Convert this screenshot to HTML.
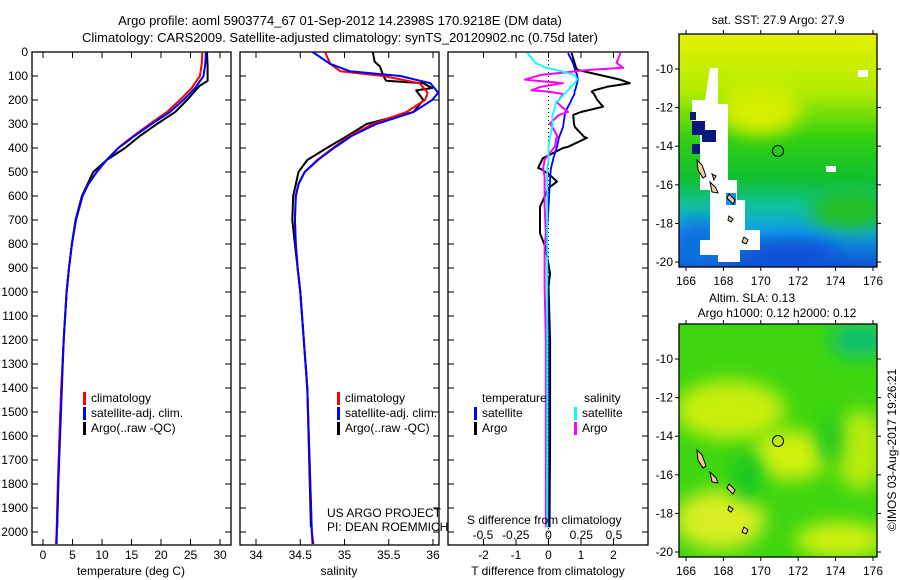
<!DOCTYPE html>
<html><head><meta charset="utf-8"><style>
html,body{margin:0;padding:0;background:#fff;}
svg{display:block;font-family:"Liberation Sans",sans-serif;}
</style></head><body>
<svg id="chart" width="900" height="580" viewBox="0 0 900 580" xmlns="http://www.w3.org/2000/svg">
<defs>
<linearGradient id="sstg" x1="0" y1="0" x2="0" y2="1">
<stop offset="0" stop-color="#e4f000"/><stop offset="0.25" stop-color="#b0ec00"/><stop offset="0.45" stop-color="#30d010"/><stop offset="0.62" stop-color="#10c030"/><stop offset="0.74" stop-color="#10c0a0"/><stop offset="0.85" stop-color="#10a0e8"/><stop offset="1" stop-color="#1050d0"/>
</linearGradient>
<filter id="blur" x="-100%" y="-100%" width="300%" height="300%"><feGaussianBlur stdDeviation="9"/></filter>
<clipPath id="m1"><rect x="679" y="34" width="198" height="233"/></clipPath>
<clipPath id="m2"><rect x="679" y="324" width="198" height="233"/></clipPath>
</defs>
<g font-size="13" fill="#000">
<text x="340" y="25" text-anchor="middle">Argo profile: aoml 5903774_67 01-Sep-2012 14.2398S 170.9218E (DM data)</text>
<text x="340" y="42" text-anchor="middle">Climatology: CARS2009. Satellite-adjusted climatology: synTS_20120902.nc (0.75d later)</text>
</g>
<g id="plots"></g>
<!-- SST map -->
<g clip-path="url(#m1)">
<rect x="679" y="34" width="198" height="233" fill="url(#sstg)"/>
<ellipse cx="760" cy="110" rx="40" ry="25" fill="#d8ee00" filter="url(#blur)"/>
<ellipse cx="850" cy="210" rx="40" ry="20" fill="#20c020" filter="url(#blur)"/>
<ellipse cx="790" cy="255" rx="50" ry="15" fill="#0850d8" filter="url(#blur)"/>
<ellipse cx="700" cy="245" rx="30" ry="25" fill="#1070e0" filter="url(#blur)"/>
<polygon points="710,68 718,68 718,104 728,104 728,180 737,180 737,200 745,200 745,230 760,230 760,250 740,250 740,262 718,262 718,255 700,255 700,240 710,240 710,190 700,190 700,155 700,130 692,130 692,100 705,100" fill="#fff"/>
<rect x="692" y="121" width="13" height="14" fill="#081880"/><rect x="702" y="130" width="14" height="12" fill="#081880"/>
<rect x="690" y="112" width="6" height="8" fill="#081880"/><rect x="692" y="144" width="8" height="10" fill="#081880"/>
<rect x="726" y="193" width="10" height="12" fill="#1090f0"/>
<rect x="826" y="166" width="10" height="6" fill="#fff"/><rect x="858" y="70" width="10" height="7" fill="#fff"/>
<g fill="#f8c8a0" stroke="#000" stroke-width="1">
<polygon points="697,160 702,165 706,176 703,178 698,170"/><polygon points="710,182 716,188 718,193 712,192"/>
<polygon points="729,194 735,200 733,204 727,198"/><polygon points="729,216 733,219 731,222 728,220"/>
<polygon points="744,237 748,240 746,244 742,242"/><polygon points="712,174 716,176 714,180"/>
</g>
<circle cx="778" cy="151" r="5.5" fill="none" stroke="#000"/>
</g>
<!-- SLA map -->
<g clip-path="url(#m2)">
<rect x="679" y="324" width="198" height="233" fill="#3ed610"/>
<ellipse cx="730" cy="410" rx="55" ry="30" fill="#c8ee10" filter="url(#blur)"/>
<ellipse cx="790" cy="455" rx="40" ry="25" fill="#d0f010" filter="url(#blur)"/>
<ellipse cx="720" cy="520" rx="45" ry="30" fill="#d8ee20" filter="url(#blur)"/>
<ellipse cx="840" cy="540" rx="45" ry="18" fill="#d0f010" filter="url(#blur)"/>
<ellipse cx="860" cy="450" rx="25" ry="40" fill="#b8ec10" filter="url(#blur)"/>
<ellipse cx="860" cy="340" rx="30" ry="18" fill="#10c070" filter="url(#blur)"/>
<ellipse cx="748" cy="475" rx="15" ry="25" fill="#18c820" filter="url(#blur)"/>
<ellipse cx="830" cy="440" rx="12" ry="25" fill="#20c820" filter="url(#blur)"/>
<g fill="#f8c8a0" stroke="#000" stroke-width="1">
<polygon points="697,450 702,455 706,466 703,468 698,460"/><polygon points="710,472 716,478 718,483 712,482"/>
<polygon points="729,484 735,490 733,494 727,488"/><polygon points="729,506 733,509 731,512 728,510"/>
<polygon points="744,527 748,530 746,534 742,532"/>
</g>
<circle cx="778" cy="441" r="5.5" fill="none" stroke="#000"/>
</g>
<g id="maps"></g>
<g font-size="12" fill="#000">
<text x="778" y="24" text-anchor="middle">sat. SST: 27.9 Argo: 27.9</text>
<text x="752" y="302" text-anchor="middle">Altim. SLA: 0.13</text>
<text x="777" y="317" text-anchor="middle">Argo h1000: 0.12 h2000: 0.12</text>
<text transform="translate(896,450) rotate(-90)" text-anchor="middle">©IMOS 03-Aug-2017 19:26:21</text>
<text x="327" y="517">US ARGO PROJECT</text>
<text x="327" y="531">PI: DEAN ROEMMICH</text>
<text x="467" y="524">S difference from climatology</text>
</g>
</svg>
<script>
// ---- data ----
const tDepth = [0,50,100,150,200,250,300,350,400,450,500,550,600,700,800,900,1000,1200,1400,1600,1800,2000,2050];
const tClim  = [27.0,26.9,26.6,25.2,23.2,21.0,18.1,15.3,12.7,10.8,9.1,7.7,6.7,5.6,4.9,4.4,4.0,3.5,3.1,2.8,2.5,2.3,2.2];
const tSat   = [27.6,27.5,27.2,25.8,23.8,21.5,18.4,15.5,12.8,10.8,9.1,7.7,6.7,5.6,4.9,4.4,4.0,3.5,3.2,2.9,2.6,2.35,2.3];
const tArgoDepth = [0,60,120,140,200,250,300,350,400,450,500,600,700,800,900,1000,1200,1400,1600,1800,1980];
const tArgo  = [27.8,27.9,27.9,26.6,24.4,22.4,19.3,16.4,13.9,10.8,8.5,6.6,5.5,4.9,4.4,4.0,3.5,3.1,2.8,2.6,2.4];
const sDepth = [0,50,80,100,130,170,200,250,300,350,400,450,500,550,600,700,800,900,1000,1400,2000,2050];
const sClim  = [34.78,34.84,34.95,35.44,35.85,35.94,35.91,35.70,35.32,35.06,34.87,34.69,34.55,34.48,34.45,34.44,34.45,34.47,34.50,34.58,34.63,34.65];
const sSat   = [34.64,34.84,35.06,35.63,35.97,36.06,35.99,35.78,35.36,35.08,34.88,34.70,34.55,34.48,34.45,34.44,34.45,34.47,34.50,34.58,34.63,34.64];
const sArgoDepth = [0,40,60,100,120,130,150,160,200,250,300,350,400,450,480,500,600,700,800,900,1000,1400,1980];
const sArgo  = [35.32,35.34,35.40,35.44,35.47,35.89,35.99,35.81,35.89,35.78,35.25,35.03,34.80,34.58,34.52,34.48,34.42,34.41,34.44,34.47,34.50,34.58,34.62];
const dDepth = [4,45,66,75,96,115,130,145,160,165,175,200,208,228,250,262,298,312,354,358,395,400,442,450,483,490,520,540,567,645,755,812,922,978,1200,1600,1980];
const dTArgo = [0.71,0.8,0.85,0.9,1.58,2.2,2.5,1.8,1.4,1.33,1.4,1.5,1.55,1.68,1.0,0.76,0.78,0.81,1.1,1.18,0.6,0.45,-0.17,-0.2,-0.32,-0.2,0.1,0.26,0,-0.26,-0.26,-0.1,0.05,0,0.05,0.05,0.03];
const dTSat  = [0.6,0.75,0.8,0.82,0.88,0.9,0.88,0.85,0.82,0.8,0.8,0.7,0.68,0.6,0.52,0.5,0.46,0.45,0.33,0.32,0.26,0.25,0.15,0.14,0.08,0.07,0.05,0.05,0.03,0,-0.05,-0.04,-0.03,-0.03,-0.02,-0.02,-0.02];
const dSArgo = [0.55,0.52,0.57,0.3,-0.06,-0.18,0.11,-0.06,-0.13,0.0,0.11,0.08,0.06,0.1,0.15,0.08,0.01,0.03,0.07,0.06,0.05,0.04,-0.02,-0.03,-0.04,-0.04,-0.03,-0.03,-0.03,-0.03,-0.02,-0.03,-0.03,-0.03,-0.02,-0.02,-0.02];
const dSSat  = [-0.16,-0.1,-0.02,0.06,0.2,0.22,0.2,0.17,0.15,0.14,0.12,0.08,0.06,0.05,0.04,0.03,0.03,0.03,0.01,0.01,0.0,0.0,0.0,0.0,-0.01,-0.01,-0.01,-0.01,-0.01,-0.01,-0.01,-0.01,-0.01,-0.01,-0.01,-0.01,-0.01];
const depthTicks = [0,100,200,300,400,500,600,700,800,900,1000,1100,1200,1300,1400,1500,1600,1700,1800,1900,2000];
const tTicks = [0,5,10,15,20,25,30];
const sTicks = [34,34.5,35,35.5,36];
const dTTicks = [-2,-1,0,1,2];
const dSTickLabels = ['-0.5','-0.25','0','0.25','0.5'];
const dSTicks = [-0.5,-0.25,0,0.25,0.5];
const latTicks = [-10,-12,-14,-16,-18,-20];
const lonTicks = [166,168,170,172,174,176];

// ---- scales ----
const NS='http://www.w3.org/2000/svg';
const yD = d => 52 + d*0.24;
const xT = t => 43 + t*5.9;
const xS = s => 256 + (s-34)*88.5;
const xDT = v => 548.5 + v*32.5;
const xDS = v => 548.5 + v*131;
const plots = document.getElementById('plots');
function el(tag, attrs, parent){const e=document.createElementNS(NS,tag);for(const k in attrs)e.setAttribute(k,attrs[k]);(parent||plots).appendChild(e);return e;}
function line(xs, ds, color, w, name){
  const pts = xs.map((x,i)=>x.toFixed(1)+','+yD(ds[i]).toFixed(1)).join(' ');
  const p = el('polyline',{points:pts,fill:'none',stroke:color,'stroke-width':w,'stroke-linejoin':'round'});
  
  
}
function txt(x,y,s,anchor,name,color){
  const t = el('text',{x:x,y:y,'font-size':12,'text-anchor':anchor||'start',fill:color||'#000'});
  t.textContent=s;
  
  
  return t;
}
function frame(x0,x1,name){
  const r = el('rect',{x:x0,y:52,width:x1-x0,height:493,fill:'none',stroke:'#000','stroke-width':1.3});
  
  
  depthTicks.forEach(d=>{
    el('line',{x1:x0,x2:x0+6,y1:yD(d),y2:yD(d),stroke:'#000'});
    el('line',{x1:x1-6,x2:x1,y1:yD(d),y2:yD(d),stroke:'#000'});
  });
}
function xticks(vals, fx, labels, x0, x1, name){
  vals.forEach((v,i)=>{
    const x=fx(v);
    el('line',{x1:x,x2:x,y1:545,y2:539,stroke:'#000'});
    el('line',{x1:x,x2:x,y1:52,y2:58,stroke:'#000'});
    txt(x,559,labels[i],'middle',name+'-tick-label');
  });
}
frame(32,231,'temperature-panel');
frame(240,439,'salinity-panel');
frame(448,648,'difference-panel');
depthTicks.forEach(d=>txt(28,yD(d)+4,String(d),'end','depth-tick-label'));
xticks(tTicks,xT,tTicks.map(String),32,231,'temperature');
xticks(sTicks,xS,sTicks.map(String),240,439,'salinity');
xticks(dTTicks,xDT,dTTicks.map(String),448,648,'t-diff');
dSTicks.forEach((v,i)=>txt(xDS(v),539,dSTickLabels[i],'middle','s-diff-tick-label'));
txt(131,575,'temperature (deg C)','middle','temperature-axis-title');
txt(339,575,'salinity','middle','salinity-axis-title');
txt(548,575,'T difference from climatology','middle','t-diff-axis-title');
const z = el('line',{x1:xDT(0),x2:xDT(0),y1:52,y2:545,stroke:'#000','stroke-dasharray':'1,3'});


line(tArgoDepth.map((d,i)=>xT(tArgo[i])),tArgoDepth,'#000',2,'temp-argo-line');
line(tDepth.map((d,i)=>xT(tClim[i])),tDepth,'#f00',2,'temp-clim-line');
line(tDepth.map((d,i)=>xT(tSat[i])),tDepth,'#00f',2,'temp-sat-line');
line(sArgoDepth.map((d,i)=>xS(sArgo[i])),sArgoDepth,'#000',2,'sal-argo-line');
line(sDepth.map((d,i)=>xS(sClim[i])),sDepth,'#f00',2,'sal-clim-line');
line(sDepth.map((d,i)=>xS(sSat[i])),sDepth,'#00f',2,'sal-sat-line');
line(dDepth.map((d,i)=>xDT(dTArgo[i])),dDepth,'#000',2,'tdiff-argo-line');
line(dDepth.map((d,i)=>xDT(dTSat[i])),dDepth,'#00f',1.8,'tdiff-sat-line');
line(dDepth.map((d,i)=>xDS(dSArgo[i])),dDepth,'#f0f',2,'sdiff-argo-line');
line(dDepth.map((d,i)=>xDS(dSSat[i])),dDepth,'#0ff',1.8,'sdiff-sat-line');
function leg(x,y,color,label,name){
  const m = el('rect',{x:x,y:y-10,width:3,height:13,fill:color});
  
  
  txt(x+8,y,label,'start',name);
}
[[83,'temp'],[337,'sal']].forEach(([x,n])=>{
  leg(x,402,'#f00','climatology',n+'-legend-clim');
  leg(x,417,'#00f','satellite-adj. clim.',n+'-legend-sat');
  leg(x,432,'#000','Argo(..raw -QC)',n+'-legend-argo');
});
txt(482,402,'temperature','start','diff-legend-temperature-header');
txt(584,402,'salinity','start','diff-legend-salinity-header');
leg(474,417,'#00f','satellite','diff-legend-t-sat');
leg(474,432,'#000','Argo','diff-legend-t-argo');
leg(574,417,'#0ff','satellite','diff-legend-s-sat');
leg(574,432,'#f0f','Argo','diff-legend-s-argo');
const maps = document.getElementById('maps');
const lonX = l => 686 + (l-166)*18.7;
[[34,'sst'],[324,'sla']].forEach(([y0,n])=>{
  const r = el('rect',{x:679,y:y0,width:198,height:233,fill:'none',stroke:'#000','stroke-width':1.3},maps);
  
  
  const latY = la => y0+35 + (-10-la)*19.3;
  latTicks.forEach(la=>{
    el('line',{x1:675,x2:679,y1:latY(la),y2:latY(la),stroke:'#000'},maps);
    el('line',{x1:877,x2:881,y1:latY(la),y2:latY(la),stroke:'#000'},maps);
    const t=txt(673,latY(la)+4,String(la),'end',n+'-lat-label');maps.appendChild(t);
  });
  lonTicks.forEach(lo=>{
    el('line',{x1:lonX(lo),x2:lonX(lo),y1:y0+233,y2:y0+237,stroke:'#000'},maps);
    el('line',{x1:lonX(lo),x2:lonX(lo),y1:y0-4,y2:y0,stroke:'#000'},maps);
    const t=txt(lonX(lo),y0+251,String(lo),'middle',n+'-lon-label');maps.appendChild(t);
  });
});
</script>
</body></html>
